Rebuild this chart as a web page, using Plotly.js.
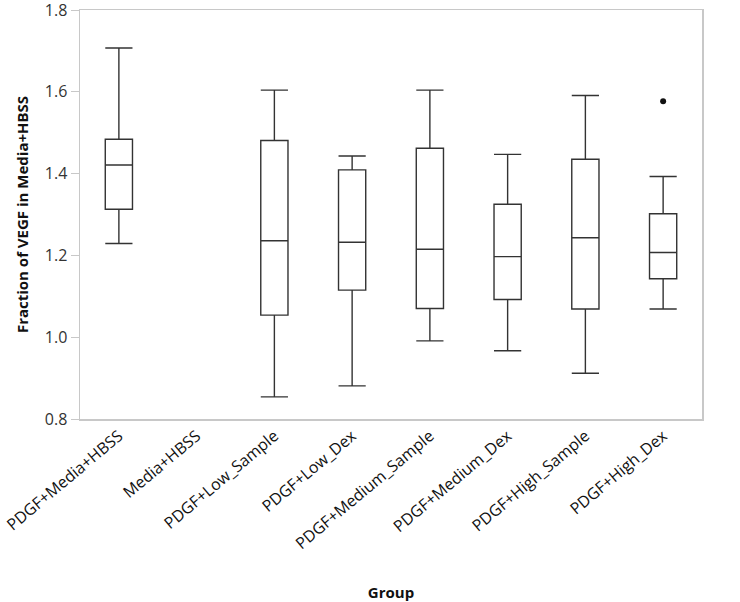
<!DOCTYPE html>
<html>
<head>
<meta charset="utf-8">
<script src="https://cdn.plot.ly/plotly-3.0.1.min.js"></script>
<style>html,body{margin:0;padding:0;background:#fff;}#chart{width:740px;height:602px;}</style>
</head>
<body>
<div id="chart"></div>
<script>
const categories = ["PDGF+Media+HBSS","Media+HBSS","PDGF+Low_Sample","PDGF+Low_Dex","PDGF+Medium_Sample","PDGF+Medium_Dex","PDGF+High_Sample","PDGF+High_Dex"];
const boxGroups = ["PDGF+Media+HBSS","PDGF+Low_Sample","PDGF+Low_Dex","PDGF+Medium_Sample","PDGF+Medium_Dex","PDGF+High_Sample","PDGF+High_Dex"];
const lowerWhisker = [1.229, 0.854, 0.881, 0.991, 0.967, 0.912, 1.069];
const q1Values     = [1.313, 1.054, 1.115, 1.070, 1.092, 1.069, 1.143];
const medianValues = [1.421, 1.236, 1.232, 1.215, 1.197, 1.243, 1.207];
const q3Values     = [1.484, 1.481, 1.409, 1.462, 1.325, 1.435, 1.302];
const upperWhisker = [1.707, 1.604, 1.443, 1.604, 1.447, 1.591, 1.393];
const outlierGroups = ["PDGF+High_Dex"];
const outlierValues = [1.577];
const yTickVals = [0.8, 1.0, 1.2, 1.4, 1.6, 1.8];
const yTickText = ["0.8", "1.0", "1.2", "1.4", "1.6", "1.8"];

const fam = "Open Sans, Noto Sans, sans-serif";
const data = [
  {
    type: "box",
    x: boxGroups,
    q1: q1Values,
    median: medianValues,
    q3: q3Values,
    lowerfence: lowerWhisker,
    upperfence: upperWhisker,
    whiskerwidth: 1,
    fillcolor: "rgba(255,255,255,0)",
    line: {color: "#333", width: 1.4},
    boxpoints: false,
    hoverinfo: "skip",
    showlegend: false
  },
  {
    type: "scatter",
    mode: "markers",
    x: outlierGroups,
    y: outlierValues,
    marker: {color: "#111", size: 6},
    showlegend: false,
    hoverinfo: "skip"
  }
];

const layout = {
  width: 740,
  height: 602,
  margin: {l: 80, r: 38, t: 10, b: 183},
  paper_bgcolor: "#fff",
  plot_bgcolor: "#fff",
  boxgap: 0.5,
  showlegend: false,
  xaxis: {
    type: "category",
    categoryorder: "array",
    categoryarray: categories,
    range: [-0.5, 7.5],
    tickangle: -40,
    tickfont: {family: fam, size: 16, color: "#111"},
    ticklabeloverflow: "allow",
    showline: true,
    mirror: true,
    linecolor: "#c8c8c8",
    linewidth: 1.5,
    showgrid: false,
    zeroline: false,
    ticks: "",
    automargin: false,
    title: {text: "<b>Group</b>", font: {family: fam, size: 15, color: "#111"}, standoff: 40}
  },
  yaxis: {
    range: [0.8, 1.8],
    tickvals: yTickVals,
    ticktext: yTickText,
    tickfont: {family: fam, size: 16, color: "#333"},
    ticklabeloverflow: "allow",
    showline: true,
    mirror: true,
    linecolor: "#c8c8c8",
    linewidth: 1.5,
    ticks: "outside",
    ticklen: 8,
    tickcolor: "#c8c8c8",
    showgrid: false,
    zeroline: false,
    automargin: false,
    title: {text: "<b>Fraction of VEGF in Media+HBSS</b>", font: {family: fam, size: 15, color: "#111"}, standoff: 12}
  }
};

Plotly.newPlot("chart", data, layout, {displayModeBar: false, staticPlot: true});
</script>
</body>
</html>
